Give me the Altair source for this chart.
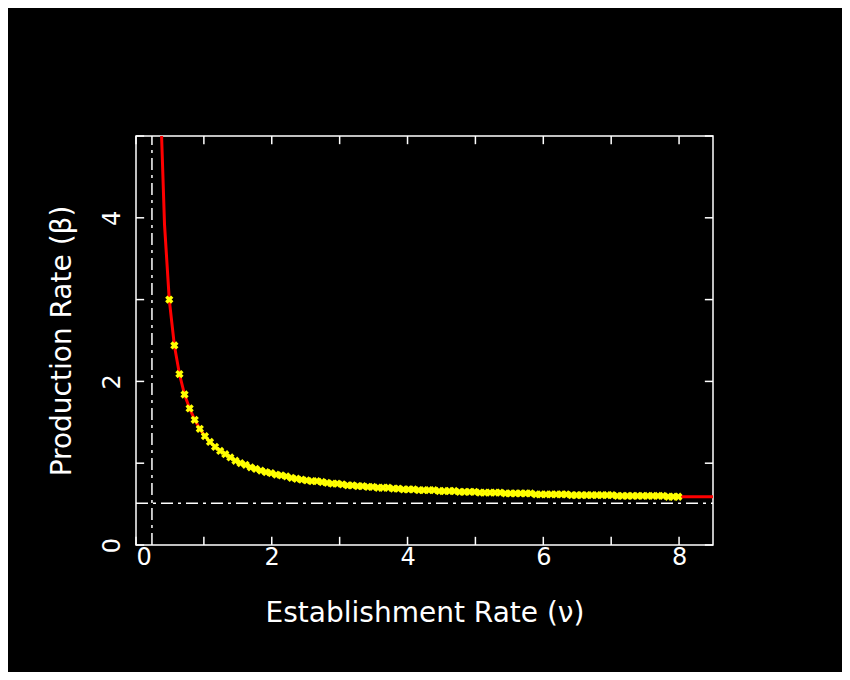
import altair as alt
import pandas as pd
import numpy as np

nu_pts = list(np.round(np.arange(0.49, 8.0001, 0.075), 3))
beta_pts = [3.00, 2.44, 2.09, 1.84, 1.67, 1.53, 1.42, 1.33, 1.26, 1.20,
            1.15, 1.11, 1.07, 1.03, 1.00, 0.98, 0.95, 0.93, 0.91, 0.89,
            0.88, 0.86, 0.85, 0.84, 0.82, 0.81, 0.80, 0.79, 0.78, 0.78,
            0.77, 0.76, 0.75, 0.75, 0.74, 0.73, 0.73, 0.72, 0.72, 0.71,
            0.71, 0.70, 0.70, 0.70, 0.69, 0.69, 0.68, 0.68, 0.68, 0.67,
            0.67, 0.67, 0.67, 0.66, 0.66, 0.66, 0.66, 0.65, 0.65, 0.65,
            0.65, 0.64, 0.64, 0.64, 0.64, 0.64, 0.63, 0.63, 0.63, 0.63,
            0.63, 0.63, 0.62, 0.62, 0.62, 0.62, 0.62, 0.62, 0.62, 0.61,
            0.61, 0.61, 0.61, 0.61, 0.61, 0.61, 0.61, 0.61, 0.60, 0.60,
            0.60, 0.60, 0.60, 0.60, 0.60, 0.60, 0.60, 0.60, 0.59, 0.59, 0.59]
n = min(len(nu_pts), len(beta_pts))
pts = pd.DataFrame({"nu": nu_pts[:n], "beta": beta_pts[:n]})
line = pd.DataFrame({"nu": [0.365, 0.42] + nu_pts[:n] + [8.5],
                     "beta": [5.30, 3.92] + beta_pts[:n] + [0.59]})
nu_asym = 0.235
beta_asym = 0.51
xticks = [0, 1, 2, 3, 4, 5, 6, 7, 8]
yticks = [0, 1, 2, 3, 4, 5]

W, H = 577, 409
xs = alt.Scale(domain=[0, 8.5], nice=False, zero=False)
ys = alt.Scale(domain=[0, 5], nice=False, zero=False)
ax = dict(labelColor="white", titleColor="white", labelFont="DejaVu Sans",
          titleFont="DejaVu Sans", labelFontSize=24, titleFontSize=28,
          titleFontWeight="normal", ticks=False, domain=False, grid=False, format="d")

X = alt.X("nu:Q", scale=xs, axis=alt.Axis(title="Establishment Rate (ν)", values=[0, 2, 4, 6, 8],
                                           labelPadding=0, titlePadding=30, **ax))
Y = alt.Y("beta:Q", scale=ys, axis=alt.Axis(title="Production Rate (β)", values=[0, 2, 4],
                                             labelAngle=-90, labelAlign="center", labelBaseline="bottom",
                                             labelPadding=12, titlePadding=24, **ax))

red = alt.Chart(line).mark_line(color="red", strokeWidth=3, clip=True).encode(x=X, y=Y, order="nu:Q")
yel = alt.Chart(pts).mark_point(shape="cross", color="#ffff00", fill="#ffff00", size=70,
                                 angle=45, filled=True, opacity=1).encode(x="nu:Q", y="beta:Q")
dash = [12, 5, 3, 5]
vl = alt.Chart(pd.DataFrame({"nu": [nu_asym]})).mark_rule(color="white", strokeDash=dash, strokeWidth=1.5).encode(
    x="nu:Q", y=alt.datum(0), y2=alt.datum(5))
hl = alt.Chart(pd.DataFrame({"beta": [beta_asym]})).mark_rule(color="white", strokeDash=dash, strokeWidth=1.5).encode(
    y="beta:Q", x=alt.datum(0), x2=alt.datum(8.5))

tx = pd.DataFrame({"t": xticks})
ty = pd.DataFrame({"t": yticks})
tb = alt.Chart(tx).mark_rule(color="white", strokeWidth=1.5).encode(x="t:Q", y=alt.datum(0), y2=alt.datum(0.1))
tt = alt.Chart(tx).mark_rule(color="white", strokeWidth=1.5).encode(x="t:Q", y=alt.datum(5), y2=alt.datum(4.9))
tl = alt.Chart(ty).mark_rule(color="white", strokeWidth=1.5).encode(y="t:Q", x=alt.datum(0), x2=alt.datum(0.12))
tr = alt.Chart(ty).mark_rule(color="white", strokeWidth=1.5).encode(y="t:Q", x=alt.datum(8.5), x2=alt.datum(8.38))

chart = alt.layer(red, vl, hl, tb, tt, tl, tr, yel).properties(
    width=W, height=H, background="black",
    padding={"left": 128, "top": 128, "right": 129, "bottom": 127},
    autosize=alt.AutoSizeParams(type="none"),
).configure_view(stroke="white", strokeWidth=1.5)

chart.save("out.html", embed_options={"renderer": "svg", "actions": False})
